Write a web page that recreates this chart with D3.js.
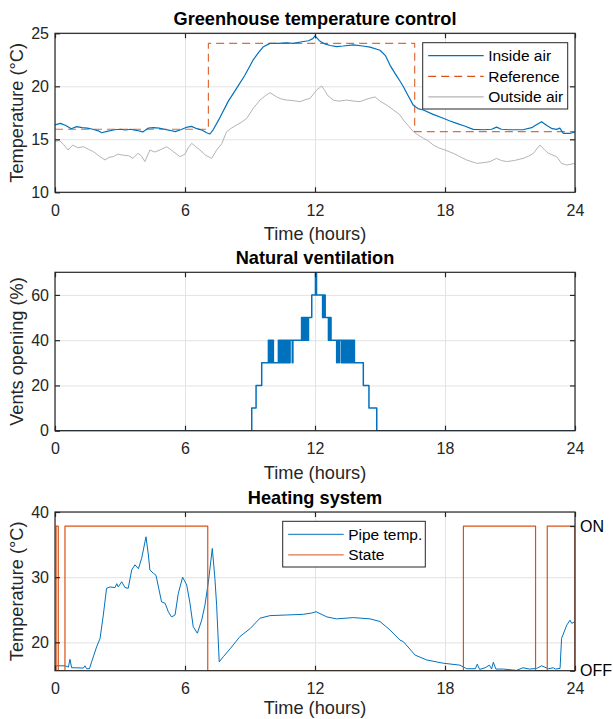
<!DOCTYPE html>
<html>
<head>
<meta charset="utf-8">
<script src="https://cdn.jsdelivr.net/npm/d3@7"></script>
<style>
  body { margin: 0; background: #fff; }
  text { font-family: "Liberation Sans", Arial, Helvetica, sans-serif; }
</style>
</head>
<body>
<main></main>
<script>

//Data (hours, value)

const xTicks = [0, 6, 12, 18, 24];

const insideAir = [[0,16.35],[0.25,16.5],[0.5,16.3],[0.75,16.0],[1.0,16.2],[1.25,16.1],[1.5,16.05],[1.75,15.95],[2.0,15.8],[2.15,15.62],[2.4,15.75],[2.75,15.9],[3.0,15.95],[3.25,15.88],[3.5,15.95],[3.75,15.85],[4.05,15.7],[4.3,16.05],[4.55,16.1],[4.8,16.05],[5.05,15.95],[5.3,15.85],[5.55,15.72],[5.8,15.9],[6.05,16.12],[6.3,16.22],[6.55,16.0],[6.8,15.85],[7.0,15.62],[7.15,15.5],[7.3,15.9],[7.6,17.0],[8.0,18.6],[8.38,19.8],[8.75,21.0],[9.15,22.5],[9.4,23.2],[9.6,23.7],[9.92,24.05],[10.3,24.05],[10.7,24.1],[11.0,24.05],[11.4,24.2],[11.7,24.3],[11.9,24.5],[12.0,24.75],[12.2,24.3],[12.45,24.0],[12.7,23.85],[13.0,23.75],[13.3,23.8],[13.77,23.9],[14.2,23.8],[14.54,23.7],[15.0,23.4],[15.25,22.9],[15.46,22.0],[15.7,21.2],[15.92,20.5],[16.08,19.96],[16.3,19.1],[16.54,18.2],[16.75,17.9],[17.0,17.76],[17.45,17.35],[17.92,16.98],[18.2,16.75],[18.54,16.5],[18.9,16.25],[19.3,15.94],[19.8,15.9],[20.15,15.95],[20.38,16.15],[20.6,15.95],[21.0,15.9],[21.6,15.9],[22.0,16.1],[22.2,16.35],[22.46,16.66],[22.7,16.3],[22.95,16.0],[23.15,15.94],[23.3,16.05],[23.46,15.56],[23.75,15.55],[24,15.7]];

const referenceT = [[0,15.95],[7.08,24.05],[16.6,15.72],[24,15.72]];

const outsideAir = [[0,14.77],[0.2,14.9],[0.4,14.5],[0.6,13.99],[0.82,14.46],[1.05,14.2],[1.31,14.3],[1.55,14.05],[1.77,13.84],[2.05,13.4],[2.31,13.05],[2.5,13.3],[2.69,13.36],[2.9,13.6],[3.15,13.5],[3.4,13.45],[3.6,13.2],[3.83,13.68],[4.0,13.4],[4.15,12.9],[4.38,13.99],[4.6,13.8],[4.85,14.0],[5.15,14.3],[5.3,14.1],[5.46,13.84],[5.77,13.36],[6.0,13.6],[6.15,14.2],[6.31,14.62],[6.5,14.3],[6.69,13.99],[6.95,13.5],[7.23,13.2],[7.46,13.99],[7.7,14.6],[7.92,15.72],[8.1,16.0],[8.38,16.35],[8.6,16.6],[8.85,16.98],[9.15,17.92],[9.46,18.7],[9.7,19.1],[9.92,19.4],[10.23,19.0],[10.45,18.8],[10.69,18.7],[11.0,18.65],[11.31,18.55],[11.5,18.7],[11.77,18.86],[12.08,19.65],[12.31,20.03],[12.45,19.6],[12.6,19.1],[12.85,18.7],[13.1,18.6],[13.46,18.7],[13.8,18.6],[14.08,18.55],[14.4,18.8],[14.77,19.0],[15.0,18.6],[15.31,18.23],[15.6,17.8],[15.92,17.3],[16.08,16.82],[16.3,16.3],[16.54,15.72],[16.8,15.35],[17.0,15.1],[17.2,14.9],[17.46,14.46],[17.7,14.2],[18.0,13.99],[18.38,13.68],[18.7,13.35],[19.0,13.05],[19.46,12.73],[19.8,12.8],[20.08,12.9],[20.38,13.2],[20.6,13.0],[20.85,12.9],[21.2,13.0],[21.6,13.2],[21.85,13.4],[22.08,13.68],[22.38,14.46],[22.6,14.0],[22.77,13.68],[23.15,13.36],[23.38,12.73],[23.62,12.57],[24,12.73]];

const vents = [[0,0],[9.08,10],[9.28,20],[9.54,30],
  [9.85,40],[9.88,30],[9.91,40],[9.95,30],[9.98,40],[10.02,30],[10.05,40],[10.08,30],
  [10.31,40],[10.34,30],[10.37,40],[10.4,30],[10.43,40],[10.46,30],[10.49,40],[10.52,30],[10.55,40],[10.58,30],[10.61,40],[10.64,30],[10.67,40],[10.7,30],[10.73,40],[10.76,30],[10.79,40],[10.82,30],[10.85,40],
  [10.95,30],[10.98,40],
  [11.38,50],[11.41,40],[11.44,50],[11.47,40],[11.5,50],[11.53,40],[11.56,50],[11.6,40],[11.63,50],[11.66,40],[11.7,50],
  [11.85,60],[12.02,70],[12.07,60],
  [12.35,50],[12.38,60],[12.41,50],[12.44,60],[12.47,50],
  [12.62,40],[12.65,50],[12.68,40],[12.71,50],[12.74,40],
  [13.0,30],[13.03,40],[13.1,30],[13.13,40],
  [13.22,30],[13.25,40],[13.28,30],[13.31,40],[13.34,30],[13.37,40],[13.4,30],[13.43,40],[13.46,30],[13.49,40],[13.52,30],[13.55,40],[13.58,30],[13.61,40],[13.64,30],[13.67,40],[13.7,30],[13.73,40],[13.76,30],[13.79,40],[13.82,30],
  [14.23,20],[14.49,10],[14.85,0],[24,0]];

const pipeTemp = [[0,16.4],[0.46,16.4],[0.62,16.2],[0.69,17.4],[0.77,16.1],[1.0,16.1],[1.31,16.05],[1.38,16.4],[1.46,15.95],[1.59,15.95],[1.69,17.0],[1.92,19.3],[2.08,20.6],[2.23,24.2],[2.38,28.3],[2.54,28.5],[2.77,28.4],[2.85,29.0],[2.92,28.5],[3.08,29.3],[3.23,28.4],[3.38,28.3],[3.54,31.1],[3.69,31.9],[3.85,31.3],[4.0,32.9],[4.2,36.2],[4.31,33.4],[4.38,31.1],[4.54,30.6],[4.66,30.3],[4.92,26.2],[5.08,26.0],[5.23,24.7],[5.38,23.9],[5.54,24.2],[5.69,27.5],[5.89,30.0],[6.08,28.8],[6.23,26.0],[6.38,22.4],[6.57,21.4],[6.77,23.4],[6.92,25.7],[7.08,29.3],[7.26,34.4],[7.38,29.8],[7.46,25.7],[7.58,17.0],[7.77,17.8],[8.08,19.0],[8.54,20.9],[9.0,22.1],[9.46,23.7],[9.92,24.1],[10.69,24.2],[11.46,24.3],[11.85,24.5],[12.05,24.7],[12.55,23.9],[13.0,23.6],[13.77,23.8],[14.54,23.6],[15.0,23.2],[15.46,21.9],[15.92,20.35],[16.08,20.1],[16.62,18.05],[17.15,17.3],[17.92,16.8],[18.69,16.5],[19.0,15.95],[19.4,15.95],[19.49,16.65],[19.6,15.85],[19.85,16.1],[20.05,16.5],[20.15,15.9],[20.23,16.95],[20.35,15.9],[20.69,15.9],[21.3,15.7],[21.6,16.1],[21.9,15.9],[22.23,16.0],[22.46,16.4],[22.77,15.95],[23.0,16.1],[23.1,15.9],[23.31,16.0],[23.38,20.6],[23.62,22.65],[23.77,23.4],[23.85,22.9],[23.95,23.1],[24,23.1]];

const heaterState = [[0,0],[0.05,1],[0.15,0],[0.46,1],[7.05,0],[18.85,1],[22.18,0],[22.72,1],[24,0]];

const stateTicks = [0, 1];
const stateLabels = ['OFF', 'ON'];

//Layout

const [w, h] = [613, 719];
const [left, right] = [55, 575];
const fuente = '"Liberation Sans", Arial, Helvetica, sans-serif';
const azul = '#0072BD', naranja = '#D95319', gris = '#b3b3b3', ejes = '#262626';
const fTick = '16px', fLabel = '18.2px';

var svg = d3.select('main')
    .append('svg')
    .attr('width', w)
    .attr('height', h);

const xScale = d3.scaleLinear()
    .domain([0, 24])
    .range([left, right]);

//Creates one panel: grid, box, ticks, texts
function panel(top, bottom, yDomain, yTicks, title, ylabel, id, xlabelY) {

    const y = d3.scaleLinear().domain(yDomain).range([bottom, top]);
    const g = svg.append('g');

    //Grid
    g.append('g')
        .attr('transform', 'translate(0,' + bottom + ')')
        .call(d3.axisBottom(xScale).tickValues(xTicks).tickSize(-(bottom - top)).tickFormat(''))
        .call(s => s.select('.domain').remove())
        .selectAll('line').attr('stroke', '#e3e3e3');

    g.append('g')
        .attr('transform', 'translate(' + left + ',0)')
        .call(d3.axisLeft(y).tickValues(yTicks).tickSize(-(right - left)).tickFormat(''))
        .call(s => s.select('.domain').remove())
        .selectAll('line').attr('stroke', '#e3e3e3');

    //Clip for the data
    svg.append('clipPath').attr('id', id)
        .append('rect')
        .attr('x', left).attr('y', top)
        .attr('width', right - left).attr('height', bottom - top);

    const datos = g.append('g').attr('clip-path', 'url(#' + id + ')');

    //Box
    g.append('rect')
        .attr('x', left).attr('y', top)
        .attr('width', right - left).attr('height', bottom - top)
        .attr('fill', 'none')
        .attr('stroke', ejes)
        .attr('stroke-width', 1.2);

    //Axes with inward ticks
    g.append('g')
        .attr('class', 'eje')
        .attr('transform', 'translate(0,' + bottom + ')')
        .call(d3.axisBottom(xScale).tickValues(xTicks).tickSize(-5).tickPadding(12));

    g.append('g')
        .attr('class', 'eje')
        .attr('transform', 'translate(0,' + top + ')')
        .call(d3.axisTop(xScale).tickValues(xTicks).tickSize(-5).tickFormat(''));

    g.append('g')
        .attr('class', 'eje')
        .attr('transform', 'translate(' + left + ',0)')
        .call(d3.axisLeft(y).tickValues(yTicks).tickSize(-5).tickPadding(6));

    g.selectAll('.domain').remove();
    g.selectAll('.eje .tick line').attr('stroke', ejes).attr('stroke-width', 1.2);
    g.selectAll('.eje .tick text')
        .attr('fill', ejes)
        .style('font-family', fuente)
        .style('font-size', fTick);

    //Title
    g.append('text')
        .attr('x', (left + right) / 2)
        .attr('y', top - 8)
        .attr('text-anchor', 'middle')
        .style('font-size', fLabel)
        .style('font-weight', 'bold')
        .text(title);

    //X label
    g.append('text')
        .attr('x', (left + right) / 2)
        .attr('y', xlabelY || bottom + 48)
        .attr('text-anchor', 'middle')
        .attr('fill', ejes)
        .style('font-size', fLabel)
        .text('Time (hours)');

    //Y label
    g.append('text')
        .attr('transform', 'translate(23,' + (top + bottom) / 2 + ') rotate(-90)')
        .attr('text-anchor', 'middle')
        .attr('fill', ejes)
        .style('font-size', fLabel)
        .text(ylabel);

    return { y: y, g: g, datos: datos };
}

function linea(p, data, yS, color, ancho, curva) {
    return p.append('path')
        .datum(data)
        .attr('fill', 'none')
        .attr('stroke', color)
        .attr('stroke-width', ancho)
        .attr('stroke-linejoin', 'round')
        .attr('d', d3.line()
            .x(d => xScale(d[0]))
            .y(d => yS(d[1]))
            .curve(curva || d3.curveLinear));
}

//Legend
function leyenda(g, x, y, wBox, items) {
    const rowH = 20.6;
    g.append('rect')
        .attr('x', x).attr('y', y)
        .attr('width', wBox).attr('height', items.length * rowH + 4.5)
        .attr('fill', '#fff')
        .attr('stroke', ejes)
        .attr('stroke-width', 1);

    items.forEach((s, i) => {
        const yy = y + 13 + i * rowH;
        g.append('line')
            .attr('x1', x + 5.5).attr('x2', x + 61)
            .attr('y1', yy).attr('y2', yy)
            .attr('stroke', s.color)
            .attr('stroke-width', s.ancho)
            .attr('stroke-dasharray', s.dash || null);
        g.append('text')
            .attr('x', x + 65.5)
            .attr('y', yy + 5.5)
            .attr('fill', '#000')
            .style('font-size', '15.5px')
            .text(s.text);
    });
}

//Panel 1
const p1 = panel(33.3, 192.3, [10, 25], [10, 15, 20, 25], 'Greenhouse temperature control', 'Temperature (°C)', 'clip1');
linea(p1.datos, outsideAir, p1.y, gris, 1);
linea(p1.datos, referenceT, p1.y, naranja, 1.2, d3.curveStepAfter).attr('stroke-dasharray', '8,5').attr('stroke-opacity', 0.85);
linea(p1.datos, insideAir, p1.y, azul, 1.2);
p1.g.append('g')
    .attr('transform', 'translate(' + right + ',0)')
    .call(d3.axisRight(p1.y).tickValues([15, 20]).tickSize(-5).tickFormat(''))
    .call(s => s.select('.domain').remove())
    .selectAll('line').attr('stroke', ejes).attr('stroke-width', 1.2);
leyenda(p1.g, 422.7, 42.7, 145, [
    { color: azul, ancho: 1.2, text: 'Inside air' },
    { color: naranja, ancho: 1.2, dash: '8,5', text: 'Reference' },
    { color: gris, ancho: 1.2, text: 'Outside air' }
]);

//Panel 2
const p2 = panel(272.3, 430.7, [0, 70], [0, 20, 40, 60], 'Natural ventilation', 'Vents opening (%)', 'clip2');
linea(p2.datos, vents, p2.y, azul, 1.5, d3.curveStepAfter);
p2.g.append('g')
    .attr('transform', 'translate(' + right + ',0)')
    .call(d3.axisRight(p2.y).tickValues([20, 40, 60]).tickSize(-5).tickFormat(''))
    .call(s => s.select('.domain').remove())
    .selectAll('line').attr('stroke', ejes).attr('stroke-width', 1.2);

//Panel 3
const p3 = panel(512, 670.7, [15.65, 40], [20, 30, 40], 'Heating system', 'Temperature (°C)', 'clip3', 714);
const yState = d3.scaleLinear().domain([0, 1.097]).range([670.7, 512]);
linea(p3.datos, pipeTemp, p3.y, azul, 1);
linea(p3.datos, heaterState, yState, naranja, 1.2, d3.curveStepAfter);

const ejeState = p3.g.append('g')
    .attr('transform', 'translate(' + right + ',0)')
    .call(d3.axisRight(yState).tickValues(stateTicks).tickSize(-5).tickPadding(5)
        .tickFormat((d, i) => stateLabels[i]));
ejeState.select('.domain').remove();
ejeState.selectAll('line').attr('stroke', ejes).attr('stroke-width', 1.2);
ejeState.selectAll('text')
    .attr('fill', '#000')
    .style('font-family', fuente)
    .style('font-size', fTick);

leyenda(p3.g, 282.7, 521.3, 142.6, [
    { color: azul, ancho: 1, text: 'Pipe temp.' },
    { color: naranja, ancho: 1, text: 'State' }
]);

</script>
</body>
</html>
